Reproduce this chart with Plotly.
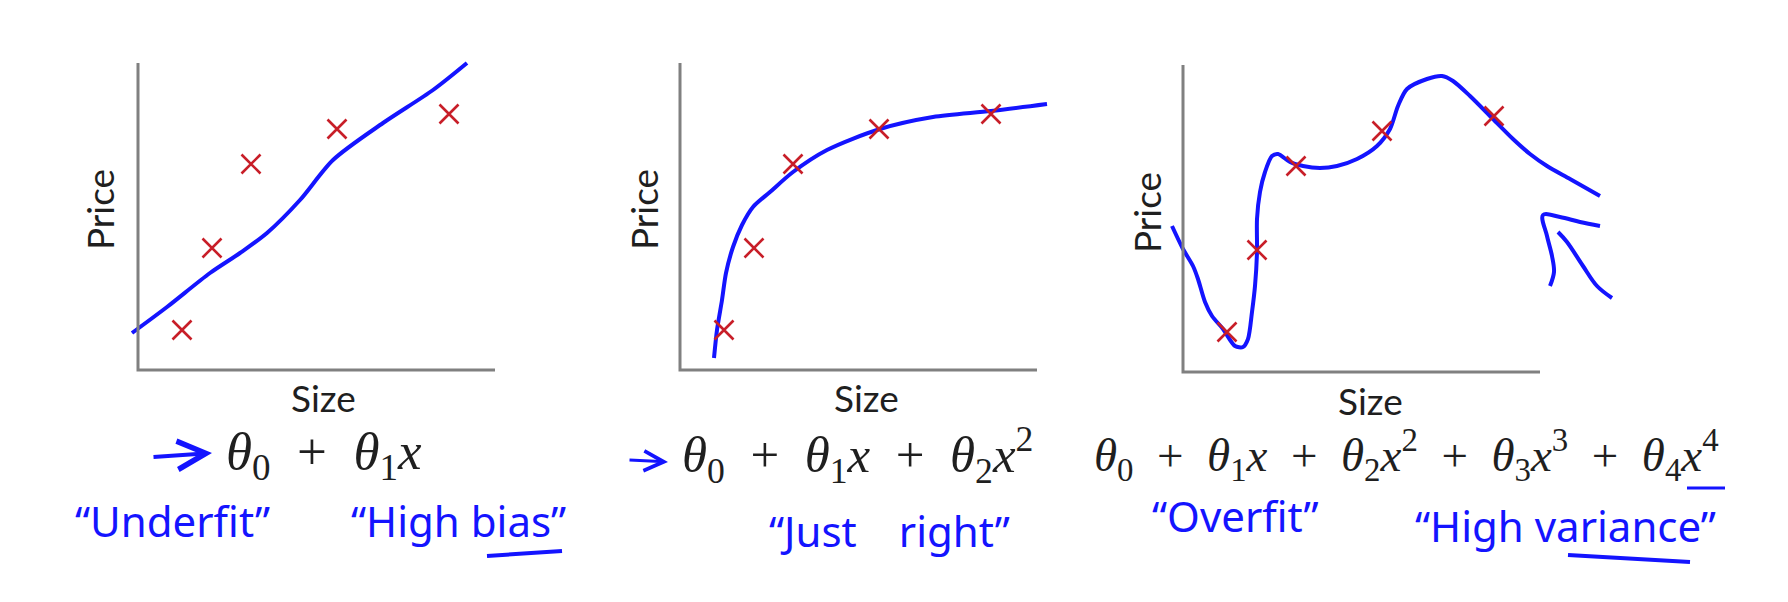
import plotly.graph_objects as go

W, H = 1788, 602
OFF = 8  # default body margin of the page; positions below are page pixels

# training set (same five houses in every panel)
size = [44, 74, 113, 199, 311]
price = [40, 122, 206, 241, 256]

# hand drawn fits
fit_linear_x = [-6, 29, 72, 102, 129, 162, 195, 245, 295, 329]
fit_linear_y = [37, 63, 97, 117, 137, 170, 210, 247, 280, 307]

fit_quad_x = [34, 37, 42, 46, 53, 62, 73, 90, 113, 147, 200, 253, 311, 367]
fit_quad_y = [12, 40, 70, 97, 123, 145, 163, 178, 198, 220, 241, 253, 259, 266]

fit_quartic_x = [-11, 0, 10, 15, 22, 29, 40, 52, 60, 65, 69, 72, 74, 74, 77, 82, 89, 95,
                 107, 120, 137, 154, 174, 194, 207, 215, 224, 244, 259, 270, 287, 310,
                 330, 347, 364, 387, 417]
fit_quartic_y = [146, 123, 106, 93, 70, 56, 43, 26, 25, 33, 60, 86, 120, 153, 180, 200, 216, 218,
                 210, 206, 204, 206, 213, 226, 243, 266, 283, 293, 296, 291, 276, 253,
                 233, 218, 206, 193, 176]

# the little hand drawn arrow pointing at the wiggly fit
pointer_a_x = [417, 397, 377, 360, 364, 369, 371, 367]
pointer_a_y = [146, 150, 155, 157, 136, 116, 100, 86]
pointer_b_x = [375, 384, 400, 414, 429]
pointer_b_y = [140, 130, 106, 86, 74]

axis_len_x, axis_len_y = 357, 307

BLUE = '#1414ff'
RED = '#c81e28'
GRAY = '#808080'
INK = '#1f1f1f'

f1 = "<i>θ</i><sub>0</sub>\u2002+\u2002<i>θ</i><sub>1</sub><i>x</i>"
f2 = f1 + "\u2002+\u2002<i>θ</i><sub>2</sub><i>x</i><sup>2</sup>"
f3 = f2 + "\u2002+\u2002<i>θ</i><sub>3</sub><i>x</i><sup>3</sup>\u2002+\u2002<i>θ</i><sub>4</sub><i>x</i><sup>4</sup>"

# origin of each little plot in page pixels, plus the box the plot area covers
panels = [
    dict(ox=138, oy=370, box=(115, 505, 45, 382), fx=fit_linear_x, fy=fit_linear_y,
         price_lbl=(99, 210), size_lbl=(323, 397), formula=f1, fpos=(224, 455), fsize=53),
    dict(ox=680, oy=370, box=(665, 1060, 45, 382), fx=fit_quad_x, fy=fit_quad_y,
         price_lbl=(643, 210), size_lbl=(866, 397), formula=f2, fpos=(680, 455), fsize=51),
    dict(ox=1183, oy=372, box=(1165, 1625, 45, 385), fx=fit_quartic_x, fy=fit_quartic_y,
         price_lbl=(1146, 213), size_lbl=(1370, 400), formula=f3, fpos=(1092, 455), fsize=47),
]


def px(x):
    return (x - OFF) / W


def py(y):
    return 1 - (y - OFF) / H


fig = go.Figure()
layout = dict(width=W, height=H, margin=dict(l=0, r=0, t=0, b=0),
              paper_bgcolor='white', plot_bgcolor='white', showlegend=False)
shapes = []
annotations = []


def label(text, x, y, font, angle=0, xanchor='center'):
    annotations.append(dict(text=text, x=px(x), y=py(y), xref='paper', yref='paper',
                            showarrow=False, textangle=angle, xanchor=xanchor,
                            yanchor='middle', font=font))


for i, p in enumerate(panels):
    n = '' if i == 0 else str(i + 1)
    x0, x1, y0, y1 = p['box']
    layout['xaxis' + n] = dict(domain=[px(x0), px(x1)], range=[x0 - p['ox'], x1 - p['ox']],
                               anchor='y' + n, visible=False, fixedrange=True)
    layout['yaxis' + n] = dict(domain=[py(y1), py(y0)], range=[p['oy'] - y1, p['oy'] - y0],
                               anchor='x' + n, visible=False, fixedrange=True)
    xr, yr = 'x' + n, 'y' + n
    # L shaped axes
    shapes.append(dict(type='path', xref=xr, yref=yr,
                       path=f'M 0 {axis_len_y} L 0 0 L {axis_len_x} 0',
                       line=dict(color=GRAY, width=3)))
    fig.add_trace(go.Scatter(x=p['fx'], y=p['fy'], mode='lines', xaxis=xr, yaxis=yr,
                             line=dict(color=BLUE, width=4, shape='spline', smoothing=0.8),
                             hoverinfo='skip'))
    fig.add_trace(go.Scatter(x=size, y=price, mode='markers', xaxis=xr, yaxis=yr,
                             marker=dict(symbol='x-thin', size=19,
                                         line=dict(color=RED, width=2.6))))
    label('Price', *p['price_lbl'], dict(family='Lato', size=37, color=INK), angle=-90)
    label('Size', *p['size_lbl'], dict(family='Lato', size=37, color=INK))
    label(p['formula'], *p['fpos'], dict(family='Liberation Serif', size=p['fsize'], color=INK),
          xanchor='left')

for xs, ys in [(pointer_a_x, pointer_a_y), (pointer_b_x, pointer_b_y)]:
    fig.add_trace(go.Scatter(x=xs, y=ys, mode='lines', xaxis='x3', yaxis='y3',
                             line=dict(color=BLUE, width=4, shape='spline'), hoverinfo='skip'))

# handwritten notes
hand = dict(family='Noto Sans', size=42, color=BLUE)
notes = [('“Underfit”', 172, 520), ('“High bias”', 458, 520), ('“Just\u2003right”', 889, 530),
         ('“Overfit”', 1235, 515), ('“High variance”', 1565, 525)]
for txt, x, y in notes:
    label(txt, x, y, hand)

# blue arrows pointing at the first two hypotheses (tail offset in pixels)
for (tx, ty, hx, hy, w, s) in [(152, 457, 212, 453, 4, 1.4), (628, 460, 668, 462, 3, 1.3)]:
    annotations.append(dict(text='', x=px(hx), y=py(hy), ax=tx - hx, ay=ty - hy,
                            xref='paper', yref='paper', axref='pixel', ayref='pixel',
                            showarrow=True, arrowhead=5, arrowsize=s, arrowwidth=w,
                            arrowcolor=BLUE))

# underlines
for (xa, ya, xb, yb, w) in [(487, 556, 562, 551, 4), (1568, 555, 1690, 562, 4),
                            (1687, 488, 1725, 488, 3)]:
    shapes.append(dict(type='line', xref='paper', yref='paper', x0=px(xa), y0=py(ya),
                       x1=px(xb), y1=py(yb), line=dict(color=BLUE, width=w)))

layout['shapes'] = shapes
layout['annotations'] = annotations
fig.update_layout(**layout)

fig.write_html("out.html")
